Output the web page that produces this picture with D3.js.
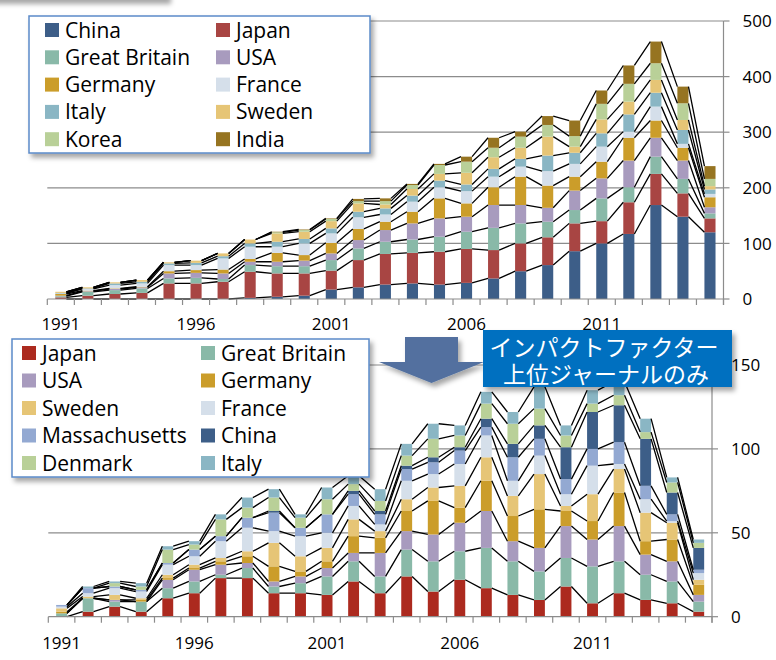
<!DOCTYPE html>
<html>
<head>
<meta charset="UTF-8">
<script src="https://d3js.org/d3.v7.min.js"></script>
<style>
  body { margin: 0; background: #fff; }
  svg { display: block; font-family: "Open Sans", "Noto Sans", sans-serif; }
</style>
</head>
<body>
<script>
// years on the category axis
const years = [1991,1992,1993,1994,1995,1996,1997,1998,1999,2000,2001,2002,2003,
               2004,2005,2006,2007,2008,2009,2010,2011,2012,2013,2014,2015];
const yearLabels = ["1991","1996","2001","2006","2011"];

// --- upper chart: all journals ---
const topNames = ["China","Japan","Great Britain","USA","Germany","France","Italy","Sweden","Korea","India"];
const topColors = ["#3d5e88","#a84543","#89b9a8","#a89bbe","#cb9d2a","#d5dfea","#8ab6c4","#e6c576","#b9d098","#967421"];
const topChina   = [0,0,0,0,0,0,0,2,4,6,17,21,26,28,26,29,37,50,61,86,100,117,169,148,120];
const topJapan   = [3,6,9,11,28,28,31,47,42,40,34,49,55,55,59,61,51,50,50,50,40,57,56,42,25];
const topGB      = [2,7,7,8,9,10,5,12,13,13,19,21,22,24,27,31,40,36,28,24,41,27,31,26,9];
const topUSA     = [1,1,2,2,9,9,10,6,8,10,12,15,21,29,33,27,41,33,25,35,36,48,34,33,11];
const topGermany = [3,1,1,1,4,5,7,5,16,10,19,20,15,21,36,24,32,51,40,25,30,41,31,23,18];
const topFrance  = [1,3,6,6,11,9,20,22,11,21,17,21,13,18,20,22,19,18,26,23,27,11,25,7,6];
const topItaly   = [1,1,3,3,3,4,4,6,9,8,9,10,11,11,12,12,14,14,28,20,24,31,25,25,8];
const topSweden  = [2,2,2,3,2,4,5,7,15,13,13,15,7,12,12,21,21,20,34,11,25,23,23,18,6];
const topKorea   = [0,0,0,0,0,0,0,0,2,3,4,4,6,7,16,20,17,20,21,19,28,32,30,30,13];
const topIndia   = [0,0,0,0,0,0,0,0,1,1,1,4,5,2,2,9,18,9,16,28,24,33,39,30,23];
const topTicks = [0,100,200,300,400,500];

// --- lower chart: high impact factor journals only ---
const botNames = ["Japan","Great Britain","USA","Germany","Sweden","France","Massachusetts","China","Denmark","Italy"];
const botColors = ["#ac2a1f","#89b9a8","#a89bbe","#cb9d2a","#e6c576","#d5dfea","#93a9d2","#3d5e88","#b9d098","#8ab6c4"];
const botJapan   = [0,3,6,3,11,14,23,23,14,14,13,21,14,24,15,22,17,13,10,18,8,14,10,8,3];
const botGB      = [2,8,3,6,6,7,2,6,4,6,11,12,10,16,18,17,24,20,17,17,22,19,15,13,6];
const botUSA     = [0,0,1,0,5,7,6,3,3,4,5,5,14,11,16,17,22,12,14,19,16,21,12,12,4];
const botGermany = [1,0,0,1,1,1,2,4,9,3,4,10,9,12,20,9,18,15,23,9,11,20,8,13,6];
const botSweden  = [2,1,3,1,2,2,2,3,14,9,8,10,4,7,8,13,14,12,21,3,16,14,17,10,3];
const botFrance  = [1,2,4,4,6,5,10,14,7,12,9,8,4,11,8,13,13,9,11,7,17,3,8,1,4];
const botMass    = [1,3,1,1,1,4,3,6,11,5,11,7,6,7,7,8,5,14,10,9,10,13,8,4,2];
const botChina   = [0,0,0,0,0,0,0,0,1,0,0,2,2,2,3,2,5,8,8,19,22,22,28,13,13];
const botDenmark = [0,0,2,2,8,3,10,6,8,6,9,4,6,6,11,7,9,12,10,7,5,6,4,6,3];
const botItaly   = [0,1,1,2,2,2,3,6,5,2,7,5,7,7,9,6,7,7,13,6,8,8,8,3,2];
const botTicks = [0,50,100,150];

const W = 776, H = 660;
const svg = d3.select("body").append("svg").attr("width", W).attr("height", H);

const defs = svg.append("defs");
defs.append("filter").attr("id", "shadow")
    .attr("x", "-10%").attr("y", "-10%").attr("width", "130%").attr("height", "140%")
  .append("feDropShadow")
    .attr("dx", 3).attr("dy", 4).attr("stdDeviation", 2.5)
    .attr("flood-color", "#000").attr("flood-opacity", 0.35);

// shadow of the box cut off at the very top
svg.append("rect").attr("x", -10).attr("y", -40).attr("width", 178).attr("height", 40)
    .attr("fill", "#fff").attr("filter", "url(#shadow)");

function drawChart(cfg) {
    const g = svg.append("g");
    const n = years.length;
    const x = d3.scaleBand().domain(years).range([cfg.x0, cfg.x1])
        .paddingInner(0.59).paddingOuter(0.295);
    const y = d3.scaleLinear().domain([0, cfg.max]).range([cfg.yBase, cfg.yTop]);

    const rows = years.map((yr, i) => {
        const r = { year: yr };
        cfg.names.forEach((nm, k) => r[nm] = cfg.series[k][i]);
        return r;
    });
    const stacked = d3.stack().keys(cfg.names)(rows);

    // gridlines
    g.selectAll(".grid").data(cfg.ticks.slice(1)).join("line")
        .attr("x1", cfg.x0).attr("x2", cfg.x1)
        .attr("y1", d => y(d)).attr("y2", d => y(d))
        .attr("stroke", "#8c8c8c").attr("stroke-width", 1.2);

    // bars
    stacked.forEach((s, k) => {
        g.append("g").selectAll("rect").data(s).join("rect")
            .attr("x", d => x(d.data.year))
            .attr("width", x.bandwidth())
            .attr("y", d => y(d[1]))
            .attr("height", d => Math.max(0, y(d[0]) - y(d[1])))
            .attr("fill", cfg.colors[k]);
    });

    // series lines between neighbouring bars
    const link = d3.line();
    stacked.forEach(s => {
        const segs = [];
        for (let i = 0; i < n - 1; i++) {
            segs.push(link([[x(years[i]) + x.bandwidth(), y(s[i][1])],
                            [x(years[i + 1]), y(s[i + 1][1])]]));
        }
        g.append("path").attr("d", segs.join(""))
            .attr("fill", "none").attr("stroke", "#000").attr("stroke-width", 1.3);
    });

    // category axis
    g.append("line").attr("x1", cfg.x0).attr("x2", cfg.x1)
        .attr("y1", cfg.yBase).attr("y2", cfg.yBase)
        .attr("stroke", "#8c8c8c").attr("stroke-width", 1.2);
    const bounds = years.map(yr => x(yr) - x.step() * x.paddingInner() / 2);
    bounds.push(cfg.x1);
    g.selectAll(".xt").data(bounds).join("line")
        .attr("x1", d => d).attr("x2", d => d)
        .attr("y1", cfg.yBase).attr("y2", cfg.yBase + 6)
        .attr("stroke", "#8c8c8c").attr("stroke-width", 1.2);
    g.selectAll(".xl").data(yearLabels).join("text")
        .attr("x", d => x(+d) + x.bandwidth() / 2)
        .attr("y", cfg.labelY)
        .attr("text-anchor", "middle")
        .attr("font-size", 17).attr("fill", "#000")
        .text(d => d);

    // value axis on the right
    g.append("line").attr("x1", cfg.x1).attr("x2", cfg.x1)
        .attr("y1", cfg.yTop).attr("y2", cfg.yBase + 6)
        .attr("stroke", "#8c8c8c").attr("stroke-width", 1.2);
    g.selectAll(".yt").data(cfg.ticks).join("line")
        .attr("x1", cfg.x1).attr("x2", cfg.x1 + 6)
        .attr("y1", d => y(d)).attr("y2", d => y(d))
        .attr("stroke", "#8c8c8c").attr("stroke-width", 1.2);
    g.selectAll(".yl").data(cfg.ticks).join("text")
        .attr("x", cfg.x1 + 19)
        .attr("y", d => y(d))
        .attr("dy", "0.36em")
        .attr("font-size", 17).attr("fill", "#000")
        .text(d => d);

    // legend box
    const L = cfg.legend;
    const lg = svg.append("g");
    lg.append("rect").attr("x", L.x).attr("y", L.y).attr("width", L.w).attr("height", L.h)
        .attr("fill", "#fff").attr("stroke", "#5b8bc9").attr("stroke-width", 1.5)
        .attr("filter", "url(#shadow)");
    cfg.names.forEach((nm, k) => {
        const col = k % 2, row = Math.floor(k / 2);
        const cx = L.x + L.colX[col];
        const cy = L.y + L.row0 + row * L.rowH;
        lg.append("rect").attr("x", cx).attr("y", cy - 7).attr("width", 14).attr("height", 14)
            .attr("fill", cfg.colors[k]);
        lg.append("text").attr("x", cx + 20).attr("y", cy).attr("dy", "0.36em")
            .attr("font-size", 21).attr("fill", "#000").text(nm);
    });
}

drawChart({
    names: topNames, colors: topColors,
    series: [topChina, topJapan, topGB, topUSA, topGermany, topFrance, topItaly, topSweden, topKorea, topIndia],
    ticks: topTicks, max: 500,
    x0: 47.3, x1: 723.5, yTop: 21, yBase: 299, labelY: 330,
    legend: { x: 29, y: 16, w: 341, h: 137, colX: [16, 187], row0: 14, rowH: 27.3 }
});

drawChart({
    names: botNames, colors: botColors,
    series: [botJapan, botGB, botUSA, botGermany, botSweden, botFrance, botMass, botChina, botDenmark, botItaly],
    ticks: botTicks, max: 150,
    x0: 48.3, x1: 712, yTop: 365, yBase: 616.7, labelY: 649,
    legend: { x: 12, y: 339, w: 357, h: 138, colX: [10, 189], row0: 14, rowH: 27.5 }
});

// arrow pointing down to the lower chart
svg.append("path")
    .attr("d", "M405,337 L458,337 L458,362 L484,362 L431.5,383 L379,362 L405,362 Z")
    .attr("fill", "#52709f").attr("filter", "url(#shadow)");

// note box
svg.append("rect").attr("x", 483).attr("y", 330).attr("width", 249).attr("height", 57)
    .attr("fill", "#0070c0").attr("filter", "url(#shadow)");
const note = svg.append("text")
    .attr("font-family", "'Noto Sans CJK JP', sans-serif")
    .attr("font-size", 23).attr("fill", "#fff").attr("text-anchor", "middle");
note.append("tspan").attr("x", 604).attr("y", 346).attr("dominant-baseline", "central").text("インパクトファクター");
note.append("tspan").attr("x", 606).attr("y", 373).attr("dominant-baseline", "central").text("上位ジャーナルのみ");
</script>
</body>
</html>
